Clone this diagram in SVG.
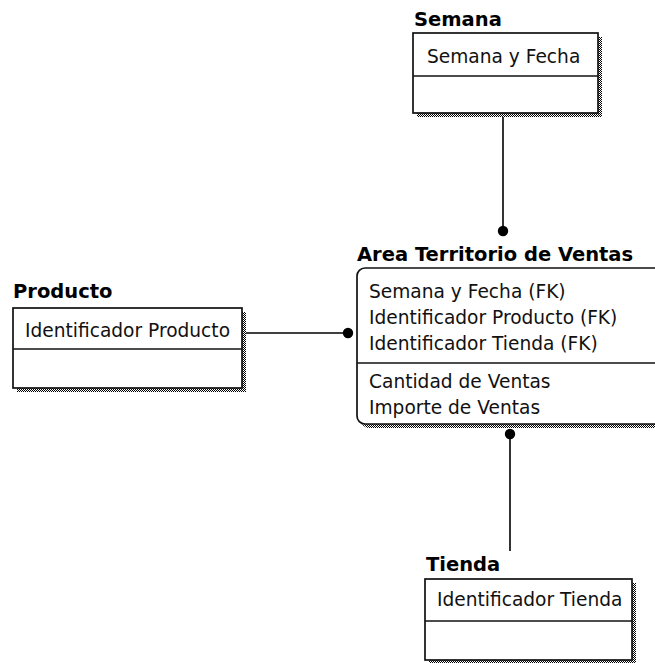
<svg xmlns="http://www.w3.org/2000/svg" width="655" height="663" viewBox="0 0 655 663">
  <defs>
    <!-- dithered drop shadow fill -->
    <pattern id="dither" width="2" height="2" patternUnits="userSpaceOnUse">
      <rect x="0" y="0" width="2" height="2" fill="#ffffff"/>
      <rect x="0" y="0" width="1" height="1" fill="#000000"/>
      <rect x="1" y="1" width="1" height="1" fill="#000000"/>
    </pattern>
  </defs>
  <style>
    .title { font-family: "DejaVu Sans", Verdana, sans-serif; font-weight: bold; font-size: 19.5px; fill: #000; }
    .attr { font-family: "DejaVu Sans", Verdana, sans-serif; font-size: 18.6px; fill: #111; }
    .box { fill: #ffffff; stroke: #111; stroke-width: 1.7; }
    .shadow { fill: url(#dither); }
    .sep { stroke: #111; stroke-width: 1.7; }
    .link { stroke: #000; stroke-width: 1.6; fill: none; }
    .dot { fill: #000; }
  </style>
  <rect width="655" height="663" fill="#ffffff"/>

  <!-- relationship lines with dependent-end dots -->
  <g id="connectors">
    <line class="link" x1="503" y1="113" x2="503" y2="232"/>
    <circle class="dot" cx="503" cy="231" r="5.2"/>
    <line class="link" x1="242" y1="333" x2="348" y2="333"/>
    <circle class="dot" cx="348" cy="333" r="5.2"/>
    <line class="link" x1="510" y1="433" x2="510" y2="551"/>
    <circle class="dot" cx="510" cy="434" r="5.2"/>
  </g>

  <g id="semana">
    <text class="title" x="414" y="26">Semana</text>
    <rect class="shadow" x="417" y="37" width="185" height="80"/>
    <rect class="box" x="413" y="33" width="185" height="80"/>
    <line class="sep" x1="413" y1="76" x2="598" y2="76"/>
    <text class="attr" x="427" y="63">Semana y Fecha</text>
  </g>

  <g id="area-territorio-ventas">
    <text class="title" x="357" y="261">Area Territorio de Ventas</text>
    <rect class="shadow" x="361" y="272" width="310" height="156" rx="8"/>
    <rect class="box" x="357" y="268" width="310" height="156" rx="8"/>
    <line class="sep" x1="357" y1="363" x2="667" y2="363"/>
    <text class="attr" x="369" y="298">Semana y Fecha (FK)</text>
    <text class="attr" x="369" y="324">Identificador Producto (FK)</text>
    <text class="attr" x="369" y="350">Identificador Tienda (FK)</text>
    <text class="attr" x="369" y="388">Cantidad de Ventas</text>
    <text class="attr" x="369" y="414">Importe de Ventas</text>
  </g>

  <g id="producto">
    <text class="title" x="13" y="298">Producto</text>
    <rect class="shadow" x="17" y="312" width="229" height="80"/>
    <rect class="box" x="13" y="308" width="229" height="80"/>
    <line class="sep" x1="13" y1="349" x2="242" y2="349"/>
    <text class="attr" x="25" y="337">Identificador Producto</text>
  </g>

  <g id="tienda">
    <text class="title" x="426" y="571">Tienda</text>
    <rect class="shadow" x="429" y="583" width="207" height="81"/>
    <rect class="box" x="425" y="579" width="207" height="81"/>
    <line class="sep" x1="425" y1="621" x2="632" y2="621"/>
    <text class="attr" x="437" y="606">Identificador Tienda</text>
  </g>
</svg>
